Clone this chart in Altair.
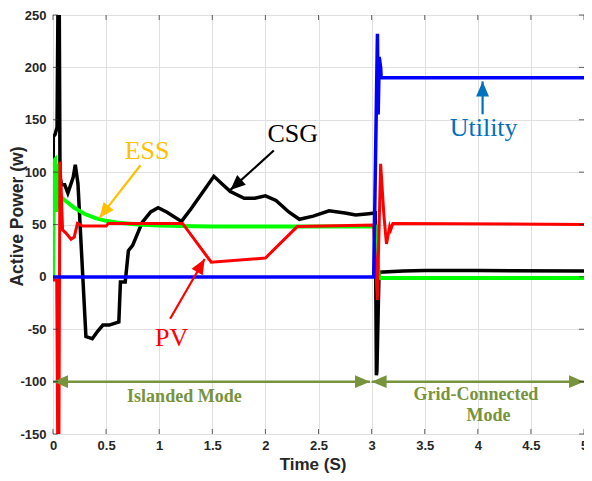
import altair as alt
import pandas as pd

# ---------------- data ----------------
t_util = [0, 3.02, 3.055, 3.062, 3.072, 3.085, 3.09, 5.0]
p_util = [0, 0, 232, 155, 210, 200, 190, 190]

t_ess = [0, 0.01, 0.02, 0.03, 0.04, 0.05, 0.06, 0.07, 0.08, 0.1, 0.15, 0.2, 0.25,
         0.3, 0.4, 0.5, 0.6, 0.7, 0.8, 1.0, 1.2, 1.5, 2.0, 2.5, 3.04, 3.055, 3.07, 5.0]
p_ess = [0, 111, 112, 62, 108, 65, 100, 70, 76, 74, 70, 66, 63,
         60, 56, 53.5, 52, 51, 50, 49, 48.5, 48, 48, 48, 48, 15, -1, -1]

t_pv = [0, 0.035, 0.045, 0.055, 0.065, 0.075, 0.09, 0.12, 0.17, 0.2, 0.23, 0.28,
        0.5, 0.52, 1.22, 1.49, 2.0, 2.3, 3.02, 3.054, 3.085, 3.115, 3.14, 3.17,
        3.18, 3.2, 5.0]
p_pv = [-3, -3, -175, -175, 110, 90, 45, 42, 36, 38, 51, 48.5,
        48.5, 51, 51, 14, 18, 48, 49.5, -22, 108, 60, 31.5, 48,
        45, 51, 50]

t_csg = [0, 0.003, 0.02, 0.038, 0.05, 0.057, 0.066, 0.08, 0.11, 0.14, 0.19, 0.21,
         0.235, 0.31, 0.37, 0.42, 0.47, 0.53, 0.62, 0.635, 0.68, 0.71, 0.75, 0.84,
         0.92, 0.99, 1.07, 1.21, 1.3, 1.515, 1.6, 1.67, 1.8, 1.9, 2.0, 2.1, 2.22,
         2.32, 2.45, 2.6, 2.75, 2.85, 2.95, 3.035, 3.045, 3.05, 3.07, 3.3, 3.5,
         4.0, 5.0]
p_csg = [0, 134, 136, 143, 300, 300, 95, 88, 88, 80, 95, 107,
         89, -57, -59, -52, -46, -46, -43, -5, -5, 25, 30, 52,
         62, 66, 62, 53, 65, 96, 88, 81.5, 75, 75, 77.4, 73, 62,
         55, 58, 63, 61, 59, 60, 61, -94, -90, 4.5, 5.5, 6,
         6, 5.5]

x_ticks = [0, 0.5, 1, 1.5, 2, 2.5, 3, 3.5, 4, 4.5, 5]
y_ticks = [-150, -100, -50, 0, 50, 100, 150, 200, 250]

# annotation labels
lab_text = ["CSG", "ESS", "PV", "Utility"]
lab_t = [2.258, 0.886, 1.118, 4.055]
lab_p = [128.5, 112.2, -66.1, 134.8]
lab_col = ["#000000", "#FFC000", "#FF0000", "#0070C0"]

mode_text = ["Islanded Mode", "Grid-Connected", "Mode"]
mode_t = [1.237, 3.982, 4.1]
mode_p = [-119.4, -117.9, -137.3]

# pointer arrows: start -> tip
arr_t0 = [0.824, 2.079, 1.103, 4.045]
arr_p0 = [106.6, 120.7, -40.0, 155.2]
arr_t1 = [0.437, 1.67, 1.428, 4.045]
arr_p1 = [56.3, 83.0, 17.1, 186.6]
arr_ang = [218, 228, 30, 0]
arr_col = ["#FFC000", "#000000", "#FF0000", "#0070C0"]

# mode span arrows
span_t0 = [0.0, 3.0]
span_t1 = [2.985, 5.0]
span_p = [-100, -100]
OLIVE = "#77933C"

# ---------------- chart ----------------
xs = alt.Scale(domain=[0, 5], nice=False, zero=False)
ys = alt.Scale(domain=[-150, 250], nice=False, zero=False)

LABF = "Liberation Sans"
SERIF = "Liberation Serif"

x_axis = alt.Axis(values=x_ticks, labelExpr="datum.value", grid=True, domain=False,
                  ticks=False, tickSize=0, labelPadding=5.5, labelFontSize=13,
                  labelFont=LABF, labelFontWeight="bold", labelColor="#262626",
                  title="Time (S)", titleFont=LABF, titleFontSize=17,
                  titleFontWeight="bold", titleColor="#262626",
                  titleX=259.5, titleY=35.5, titleBaseline="alphabetic",
                  titleAlign="center", labelFlush=False)
y_axis = alt.Axis(values=y_ticks, labelExpr="datum.value", grid=True, domain=False,
                  ticks=False, tickSize=0, labelPadding=7, labelFontSize=13,
                  labelFont=LABF, labelFontWeight="bold", labelColor="#262626",
                  title="Active Power (w)", titleFont=LABF, titleFontSize=17.5,
                  titleFontWeight="bold", titleColor="#262626",
                  titleAngle=270, titleX=-30.5, titleY=201,
                  titleBaseline="alphabetic", titleAlign="center", labelFlush=False)


def X(field=None, datum=None):
    if datum is not None:
        return alt.X(datum=datum, scale=xs, axis=x_axis)
    return alt.X(field, scale=xs, axis=x_axis)


def Y(field=None, datum=None):
    if datum is not None:
        return alt.Y(datum=datum, scale=ys, axis=y_axis)
    return alt.Y(field, scale=ys, axis=y_axis)


def series(t, p, color, width):
    df = pd.DataFrame({"t": t, "p": p, "i": list(range(len(t)))})
    return alt.Chart(df).mark_line(color=color, strokeWidth=width, clip=True).encode(
        x=X("t:Q"), y=Y("p:Q"), order="i:Q",
    )


black = series(t_csg, p_csg, "#000000", 3.5)
green = series(t_ess, p_ess, "#00FF00", 4)
red = series(t_pv, p_pv, "#FF0000", 3)
blue = series(t_util, p_util, "#0000FF", 3.5)

# inner ticks (MATLAB box style)
xt = pd.DataFrame({"t": x_ticks})
yt = pd.DataFrame({"p": y_ticks})
TK = "#262626"
tick_b = alt.Chart(xt).mark_tick(orient="vertical", size=5, thickness=1, color=TK,
                                 yOffset=-2.5).encode(x=X("t:Q"), y=Y(datum=-150))
tick_t = alt.Chart(xt).mark_tick(orient="vertical", size=5, thickness=1, color=TK,
                                 yOffset=2.5).encode(x=X("t:Q"), y=Y(datum=250))
tick_l = alt.Chart(yt).mark_tick(orient="horizontal", size=5, thickness=1, color=TK,
                                 xOffset=2.5).encode(y=Y("p:Q"), x=X(datum=0))
tick_r = alt.Chart(yt).mark_tick(orient="horizontal", size=5, thickness=1, color=TK,
                                 xOffset=-2.5).encode(y=Y("p:Q"), x=X(datum=5))

# labels
lab_df = pd.DataFrame({"t": lab_t, "p": lab_p, "txt": lab_text, "c": lab_col})
labels = alt.Chart(lab_df).mark_text(font=SERIF, fontSize=26, align="center",
                                     baseline="alphabetic").encode(
    x=X("t:Q"), y=Y("p:Q"), text="txt:N", color=alt.Color("c:N", scale=None))

mode_df = pd.DataFrame({"t": mode_t, "p": mode_p, "txt": mode_text})
modes = alt.Chart(mode_df).mark_text(font=SERIF, fontSize=18, fontWeight="bold",
                                     align="center", baseline="alphabetic",
                                     color=OLIVE).encode(
    x=X("t:Q"), y=Y("p:Q"), text="txt:N")

# pointer arrows
arr_df = pd.DataFrame({"t0": arr_t0, "p0": arr_p0, "t1": arr_t1, "p1": arr_p1,
                       "a": arr_ang, "c": arr_col})
shafts = alt.Chart(arr_df).mark_rule(strokeWidth=2.2).encode(
    x=X("t0:Q"), y=Y("p0:Q"), x2="t1:Q", y2="p1:Q",
    color=alt.Color("c:N", scale=None))

HEAD = "M0,0L0.43,1L-0.43,1Z"
heads = alt.Chart(arr_df).mark_point(shape=HEAD, filled=True, opacity=1, size=900,
                                     strokeWidth=0).encode(
    x=X("t1:Q"), y=Y("p1:Q"),
    angle=alt.Angle("a:Q", scale=None), color=alt.Color("c:N", scale=None))

# mode span arrows
span_df = pd.DataFrame({"t0": span_t0, "t1": span_t1, "p": span_p})
span_line = alt.Chart(span_df).mark_rule(strokeWidth=2.5, color=OLIVE).encode(
    x=X("t0:Q"), x2="t1:Q", y=Y("p:Q"))
span_heads = pd.DataFrame({
    "t": span_t0 + span_t1,
    "p": span_p + span_p,
    "a": [270, 270, 90, 90],
})
span_tips = alt.Chart(span_heads).mark_point(shape=HEAD, filled=True, opacity=1,
                                             size=900, strokeWidth=0,
                                             color=OLIVE).encode(
    x=X("t:Q"), y=Y("p:Q"), angle=alt.Angle("a:Q", scale=None))

chart = alt.layer(
    black, green, red, blue,
    span_line, span_tips, shafts, heads, labels, modes,
    tick_b, tick_t, tick_l, tick_r,
).properties(
    width=531, height=419,
    padding={"left": 45, "top": 7, "right": 0, "bottom": 39},
    autosize=alt.AutoSizeParams(type="none"),
    background="white",
).configure_view(
    stroke="#262626", strokeWidth=1
).configure_axis(
    gridColor="#e0e0e0", gridWidth=1
)

chart.save("out.html", embed_options={"renderer": "svg", "actions": False})
